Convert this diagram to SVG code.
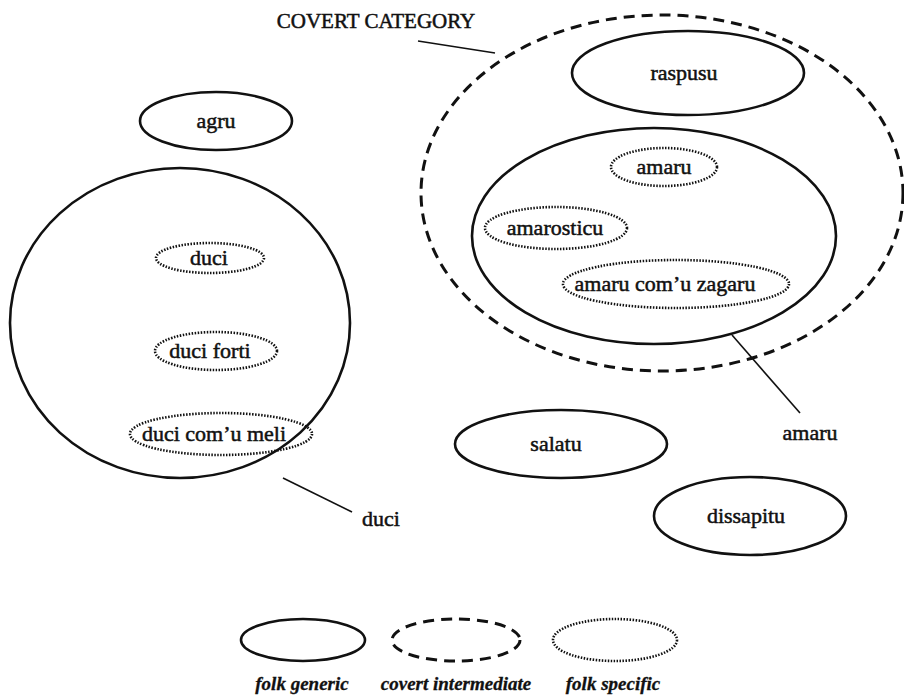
<svg xmlns="http://www.w3.org/2000/svg" width="904" height="698" viewBox="0 0 904 698">
<style>
text{font-family:"Liberation Serif","Times New Roman",serif;font-size:22px;fill:#111;stroke:#111;stroke-width:0.5;text-anchor:middle}
.g{fill:none;stroke:#111;stroke-width:2.6}
.c{fill:none;stroke:#111;stroke-width:3;stroke-dasharray:11 7}
.s{fill:none;stroke:#111;stroke-width:2.6;stroke-dasharray:1.5 1.5}
.ln{stroke:#111;stroke-width:1.6;fill:none}
.lg{font-weight:bold;font-style:italic;font-size:19px;stroke-width:0.3}
</style>
<rect width="904" height="698" fill="#fff"/>
<g id="covert">
<ellipse class="c" cx="662" cy="193" rx="241" ry="178"/>
<text x="376" y="28" style="font-size:21px">COVERT CATEGORY</text>
</g>
<g id="raspusu"><ellipse class="g" cx="688" cy="73" rx="116" ry="42"/><text x="684" y="80">raspusu</text></g>
<g id="amaru-generic"><ellipse class="g" cx="654" cy="236" rx="182" ry="108"/></g>
<g id="amaru"><ellipse class="s" cx="664" cy="167" rx="53" ry="19"/><text x="664" y="174">amaru</text></g>
<g id="amarosticu"><ellipse class="s" cx="556" cy="228" rx="71" ry="21"/><text x="555" y="235">amarosticu</text></g>
<g id="zagaru"><ellipse class="s" cx="676" cy="284" rx="113" ry="24"/><text x="665" y="291">amaru com’u zagaru</text></g>
<g id="agru"><ellipse class="g" cx="216" cy="121" rx="76" ry="29"/><text x="216" y="128">agru</text></g>
<g id="duci-generic"><ellipse class="g" cx="180" cy="323" rx="170" ry="155"/></g>
<g id="duci"><ellipse class="s" cx="210" cy="258" rx="54" ry="15"/><text x="209" y="265">duci</text></g>
<g id="duci-forti"><ellipse class="s" cx="216" cy="351" rx="61" ry="19"/><text x="210" y="358">duci forti</text></g>
<g id="duci-meli"><ellipse class="s" cx="221" cy="434" rx="91" ry="21"/><text x="214" y="441">duci com’u meli</text></g>
<g id="salatu"><ellipse class="g" cx="561" cy="444" rx="106" ry="34"/><text x="556" y="451">salatu</text></g>
<g id="dissapitu"><ellipse class="g" cx="750" cy="516" rx="96" ry="39"/><text x="746" y="523">dissapitu</text></g>
<g id="connectors">
<line class="ln" x1="418" y1="41" x2="495" y2="53"/>
<line class="ln" x1="732" y1="335" x2="800" y2="413"/>
<line class="ln" x1="283" y1="478" x2="352" y2="512"/>
</g>
<g id="labels">
<text x="810" y="440">amaru</text>
<text x="381" y="526">duci</text>
</g>
<g id="legend">
<ellipse class="g" cx="303" cy="640" rx="62" ry="21"/>
<ellipse class="c" cx="456" cy="640" rx="64" ry="21"/>
<ellipse class="s" cx="615" cy="640" rx="62" ry="21"/>
<text class="lg" x="302" y="690">folk generic</text>
<text class="lg" x="456" y="690">covert intermediate</text>
<text class="lg" x="613" y="690">folk specific</text>
</g>
</svg>
